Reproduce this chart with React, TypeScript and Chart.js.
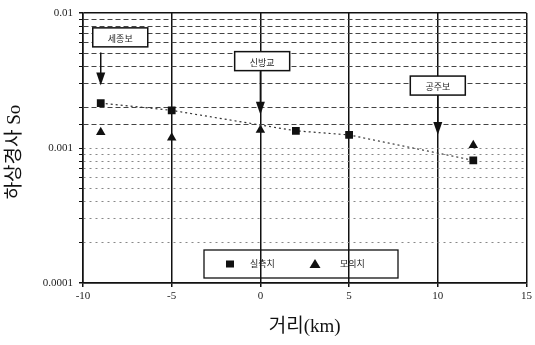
import React, { useEffect, useRef } from "react";
import { Chart, registerables } from "chart.js";

Chart.register(...registerables);

// ---- data ----
const measuredX = [-9, -5, 2, 5, 12];
const measuredY = [0.00215, 0.0019, 0.00134, 0.00125, 0.00081];
const simulatedX = [-9, -5, 0, 12];
const simulatedY = [0.00131, 0.00119, 0.00136, 0.00105];
const seriesNames = ["실측치", "모의치"];
const xTicks = [-10, -5, 0, 5, 10, 15];
const yTickLabels = ["0.0001", "0.001", "0.01"];

// annotation labels and their anchor locations (in data units)
const annoLabels = ["세종보", "신방교", "공주보"];
const annoArrowX = [-9, 0, 10];
const annoBoxX = [-7.9, 0.1, 10.0];
const annoBoxY = [0.0066, 0.0044, 0.0029];
const annoArrowFrom = [0.0051, 0.0037, 0.00247];
const annoArrowTo = [0.0029, 0.00176, 0.00125];

const SERIF = "'Liberation Serif', 'DejaVu Serif', 'Noto Sans CJK KR', serif";
const KFONT = "'Liberation Serif', 'Noto Sans CJK KR', serif";

const overlayPlugin = {
  id: "overlay",
  afterDraw(chart: any) {
    const ctx = chart.ctx as CanvasRenderingContext2D;
    const xs = chart.scales.x;
    const ys = chart.scales.y;
    const area = chart.chartArea;
    ctx.save();
    // annotations
    for (let i = 0; i < annoLabels.length; i++) {
      const cx = xs.getPixelForValue(annoBoxX[i]);
      const cy = ys.getPixelForValue(annoBoxY[i]);
      const w = 55, h = 19;
      ctx.fillStyle = "#fff";
      ctx.fillRect(cx - w / 2, cy - h / 2, w, h);
      ctx.strokeStyle = "#111";
      ctx.lineWidth = 1.5;
      ctx.strokeRect(cx - w / 2, cy - h / 2, w, h);
      ctx.fillStyle = "#222";
      ctx.font = "9px 'Noto Sans CJK KR', sans-serif";
      ctx.textAlign = "center";
      ctx.textBaseline = "middle";
      ctx.fillText(annoLabels[i], cx, cy + 1);
      // arrow
      const ax = xs.getPixelForValue(annoArrowX[i]);
      const y0 = ys.getPixelForValue(annoArrowFrom[i]);
      const y1 = ys.getPixelForValue(annoArrowTo[i]);
      ctx.strokeStyle = "#111";
      ctx.lineWidth = 1.5;
      ctx.beginPath();
      ctx.moveTo(ax, y0);
      ctx.lineTo(ax, y1 - 10);
      ctx.stroke();
      ctx.fillStyle = "#111";
      ctx.beginPath();
      ctx.moveTo(ax - 4.5, y1 - 13);
      ctx.lineTo(ax + 4.5, y1 - 13);
      ctx.lineTo(ax, y1);
      ctx.closePath();
      ctx.fill();
    }
    // legend
    const lx = area.left + 121, ly = area.top + 237, lw = 194, lh = 28;
    ctx.strokeStyle = "#111";
    ctx.lineWidth = 1.3;
    ctx.strokeRect(lx, ly, lw, lh);
    const my = ly + lh / 2;
    ctx.fillStyle = "#111";
    ctx.fillRect(lx + 22, my - 3.5, 8, 7);
    ctx.beginPath();
    ctx.moveTo(lx + 111 - 5.5, my + 4);
    ctx.lineTo(lx + 111 + 5.5, my + 4);
    ctx.lineTo(lx + 111, my - 5);
    ctx.closePath();
    ctx.fill();
    ctx.font = "9px 'Noto Sans CJK KR', sans-serif";
    ctx.textAlign = "left";
    ctx.textBaseline = "middle";
    ctx.fillStyle = "#222";
    ctx.fillText(seriesNames[0], lx + 46, my);
    ctx.fillText(seriesNames[1], lx + 136, my);
    // axis titles
    ctx.fillStyle = "#111";
    ctx.font = "19px " + KFONT;
    ctx.textAlign = "center";
    ctx.textBaseline = "middle";
    ctx.fillText("거리(km)", (area.left + area.right) / 2, 327);
    ctx.translate(15, 152);
    ctx.rotate(-Math.PI / 2);
    ctx.fillText("하상경사 So", 0, 0);
    ctx.restore();
  },
};

function isDecade(v: number) {
  const l = Math.log10(v);
  return Math.abs(l - Math.round(l)) < 1e-6;
}

export default function App() {
  const ref = useRef<HTMLCanvasElement>(null);
  useEffect(() => {
    if (!ref.current) return;
    const chart = new Chart(ref.current, {
      type: "scatter",
      data: {
        datasets: [
          {
            label: seriesNames[0],
            data: measuredX.map((x, i) => ({ x, y: measuredY[i] })),
            showLine: true,
            borderColor: "#333",
            borderWidth: 1.2,
            borderDash: [2, 3],
            pointStyle: "rect",
            pointRadius: 5.5,
            pointBackgroundColor: "#111",
            pointBorderColor: "#111",
            pointBorderWidth: 0,
          },
          {
            label: seriesNames[1],
            data: simulatedX.map((x, i) => ({ x, y: simulatedY[i] })),
            showLine: false,
            pointStyle: "triangle",
            pointRadius: 5.5,
            pointBackgroundColor: "#111",
            pointBorderColor: "#111",
            pointBorderWidth: 0,
          },
        ],
      },
      options: {
        responsive: false,
        animation: false,
        layout: { padding: { left: 0, top: 13, right: 5, bottom: 0 } },
        plugins: { legend: { display: false }, tooltip: { enabled: false } },
        scales: {
          x: {
            type: "linear",
            min: xTicks[0],
            max: xTicks[xTicks.length - 1],
            afterBuildTicks: (s: any) => {
              s.ticks = xTicks.map((v) => ({ value: v }));
            },
            afterFit: (s: any) => {
              s.height = 62;
            },
            ticks: {
              color: "#222",
              font: { family: SERIF, size: 11 },
              padding: 3,
              maxRotation: 0,
              autoSkip: false,
              callback: (v: any) => String(v),
            },
            grid: {
              color: "#111",
              lineWidth: 1.5,
              drawTicks: true,
              tickLength: 4,
              tickColor: "#111",
            },
            border: { display: true, color: "#111", width: 1.5 },
          },
          y: {
            type: "logarithmic",
            min: 0.0001,
            max: 0.01,
            afterFit: (s: any) => {
              s.width = 83;
            },
            ticks: {
              color: "#222",
              font: { family: SERIF, size: 11 },
              padding: 6,
              autoSkip: false,
              callback: (v: any) => {
                const n = Number(v);
                if (!isDecade(n)) return "";
                const idx = Math.round(Math.log10(n)) + 4;
                return yTickLabels[idx] ?? "";
              },
            },
            grid: {
              color: (c: any) => {
                const v = c.tick ? c.tick.value : 0;
                if (v >= 0.0099 || v <= 0.000101) return "#111";
                if (v > 0.00101) return "#444";
                return "#888";
              },
              lineWidth: (c: any) => {
                const v = c.tick ? c.tick.value : 0;
                if (v >= 0.0099 || v <= 0.000101) return 1.5;
                return 1;
              },
              drawTicks: true,
              tickLength: 4,
              tickColor: "#111",
              tickBorderDash: [],
            },
            border: {
              display: true,
              color: "#111",
              width: 1.5,
              dash: (c: any) => {
                const v = c.tick ? c.tick.value : 0;
                if (v >= 0.0099 || v <= 0.000101) return [];
                if (v > 0.00101) return [5, 3];
                return [2, 4];
              },
            },
          },
        },
      },
      plugins: [overlayPlugin],
    } as any);
    return () => chart.destroy();
  }, []);
  return (
    <div style={{ position: "absolute", left: 0, top: 0, width: 535, height: 345, background: "#fff" }}>
      <canvas ref={ref} width={535} height={345} style={{ width: 535, height: 345 }} />
    </div>
  );
}
